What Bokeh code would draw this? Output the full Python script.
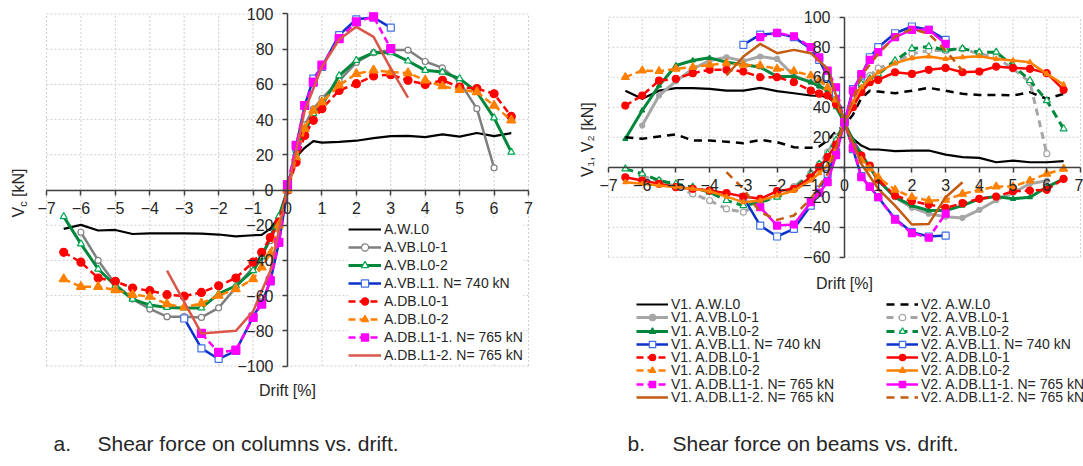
from bokeh.plotting import figure
from bokeh.models import Range1d, FixedTicker, Label, Legend, LegendItem
from bokeh.layouts import row
from bokeh.embed import file_html
from bokeh.resources import INLINE

FONT = "Liberation Sans"
TXT = "#262626"

# ---------------- data: (a) shear force on columns ----------------
drift_full = [-6.5, -6, -5.5, -5, -4.5, -4, -3.5, -3, -2.5, -2, -1.5, -1, -0.75, -0.5, -0.25,
              0, 0.25, 0.5, 0.75, 1, 1.5, 2, 2.5, 3, 3.5, 4, 4.5, 5, 5.5, 6, 6.5]
drift_6 = [-6, -5.5, -5, -4.5, -4, -3.5, -3, -2.5, -2, -1.5, -1, -0.75, -0.5, -0.25,
           0, 0.25, 0.5, 0.75, 1, 1.5, 2, 2.5, 3, 3.5, 4, 4.5, 5, 5.5, 6]
drift_3 = [-3, -2.5, -2, -1.5, -1, -0.75, -0.5, -0.25, 0, 0.25, 0.5, 0.75, 1, 1.5, 2, 2.5, 3]
drift_25 = [-2.5, -2, -1.5, -1, -0.75, -0.5, -0.25, 0, 0.25, 0.5, 0.75, 1, 1.5, 2, 2.5, 3]
drift_l12 = [-3.5, -2.5, -1.5, -1, -0.5, 0, 0.5, 1, 1.5, 2, 2.5, 3, 3.5]
drift_35 = [-3.5, -3, -2.5, -2, -1.5, -1, -0.5, 0, 0.5, 1, 1.5, 2, 2.5, 3, 3.5]

vc_AW_L0 = [-22.1, -19.8, -23, -22.7, -25, -24.6, -24.6, -24.6, -24.8, -25.3, -26.3, -25.7, -25.5, -22, -15.5,
            0, 18.7, 24, 27.8, 26.9, 27.3, 28, 29.5, 30.6, 30.7, 30, 31.6, 30.3, 32.4, 30.6, 32.3]
vc_AVB_L0_1 = [-24, -40, -53.4, -62, -67.6, -72, -72, -72.4, -67, -55.3, -44, -37, -28.7, -18,
               0, 22, 37, 46, 52, 62, 72.5, 78, 79.5, 79.5, 73, 69.4, 61.4, 46.2, 12.6]
vc_AVB_L0_2 = [-15.1, -30.6, -44.9, -54.4, -62, -65.4, -66.7, -67, -67, -59, -54.4, -45.8, -38, -26.9, -15,
               0, 20.6, 33, 43.4, 48, 65, 73.7, 78, 78, 73.3, 68, 67, 63.3, 55.7, 41, 21.5]
vc_AVB_L1 = [-73, -90, -96, -91.4, -72, -64, -52, -30, 0, 24.4, 48, 63.3, 70, 88, 97, 98, 92.3]
vc_ADB_L0_1 = [-35.4, -41, -50, -51.9, -55.7, -57.2, -59.5, -60.3, -58.2, -54.4, -50, -41, -35.4, -27, -18.3,
               0, 15.8, 31, 39.6, 46.2, 56.6, 60.4, 64.8, 65.5, 62.3, 60, 62.3, 58.5, 57.6, 54.7, 41.8]
vc_ADB_L0_2 = [-50.6, -55, -55, -56.8, -59.5, -60.6, -64.8, -66.7, -64.4, -60, -56.3, -50.6, -43.9, -36.3, -20,
               0, 18.7, 34.8, 45.2, 50, 59.5, 66, 68, 67, 66.5, 62.3, 59, 57, 55.7, 48, 39.6]
vc_ADB_L1_1 = [-81.5, -92.3, -91, -72.4, -64.8, -51.5, -29.7, 3, 25.3, 48, 61.3, 70.9, 86, 95.5, 98.4, 80.3]
vc_ADB_L1_2 = [-45.8, -81.5, -80, -69, -46, 0, 45, 70, 85.5, 92.7, 87, 69, 52.5]

# ---------------- data: (b) shear force on beams ----------------
v1_AW_L0 = [51, 45.6, 51, 52.7, 52.7, 52.2, 51, 51, 52.9, 50.7, 49.3, 47.8, 47.5, 47, 42,
            28, 19, 14.4, 11.8, 11.8, 10.7, 11.1, 11.1, 8.4, 6.7, 6.2, 3.3, 4.4, 3.3, 3.3, 4]
v2_AW_L0 = [20, 18.9, 20.5, 21.8, 17.8, 17.8, 17, 16, 18.2, 16.7, 13.3, 12.9, 13.8, 17.8, 24,
            28, 35, 46, 51, 50.4, 49.3, 51, 52.9, 51, 48.9, 48.2, 48.2, 47.8, 50, 45.6, 48.9]
v1_AVB_L0_1 = [27.8, 47.8, 57.3, 65.6, 71.1, 73.3, 70.7, 73.8, 72.2, 61, 56.7, 54, 51, 42,
               30, 15, 7, 0, -8, -20, -27, -31, -33, -33.8, -28.4, -22, -17, -11, -9]
v2_AVB_L0_1 = [-6, -9, -13, -17.8, -22.2, -27.8, -30, -24, -19, -13, -4, 2, 10, 20,
               30, 45, 55, 61, 66, 70, 75.6, 77.8, 77.8, 78.9, 75.6, 73.3, 65.6, 56.7, 9]
v1_AVB_L0_2 = [18.9, 37.8, 54.4, 67.8, 71.1, 72.9, 70, 68.4, 66.7, 60.4, 60.4, 56.7, 54, 51, 40,
               30, 17.8, 8.9, 0, -8.9, -20, -25.6, -28.9, -28.9, -25.6, -21.1, -19.6, -21.1, -20, -13.3, -7.8]
v2_AVB_L0_2 = [-1.1, -4.4, -8.9, -11.1, -13.3, -16.7, -22.2, -25.6, -23.3, -20, -14.4, -4.4, 2, 8.9, 18,
               30, 42, 55.6, 59, 62, 71, 79, 80.4, 78.2, 79, 76.7, 76.7, 67.8, 57.8, 44.4, 25.6]
v1_AVB_L1 = [81.6, 88.4, 89.3, 86.7, 78.9, 71.6, 60, 49, 30, 12, -6, -13, -20, -34.4, -43.3, -46.2, -45.6]
v2_AVB_L1 = [-20, -38.9, -46.2, -41.1, -25.6, -15, -4.4, 10, 30, 52, 61, 73.3, 80, 89.3, 93.8, 91.6, 84.9]
v1_ADB_L0_1 = [41.1, 47.8, 57.8, 58.9, 62.7, 64.9, 64.9, 63.8, 60, 60, 56.7, 51, 49, 47.8, 42,
               30, 13.3, 7.8, 1.1, -8.4, -18.9, -22.7, -24.9, -27.1, -24, -21.1, -19.6, -16, -15.6, -15.1, -7.8]
v2_ADB_L0_1 = [-6.7, -8.9, -11.1, -13.3, -14.4, -15.6, -17.3, -19.6, -21.1, -16, -14.4, -6.7, 0, 6.7, 15,
               30, 40, 50, 56.7, 58.2, 63.3, 62.2, 64.9, 66.2, 63.3, 63.8, 67.1, 66.2, 65.6, 62.7, 51.6]
v1_ADB_L0_2 = [60, 64.4, 64, 65.6, 66.7, 68.2, 69.3, 68.2, 67.8, 65.6, 64, 61.1, 58, 53.3, 45,
               30, 12.2, 4.4, -1, -6.7, -15.1, -20, -22.2, -21.8, -17.8, -15.1, -12.9, -12.9, -8.9, -4.4, -1.1]
v2_ADB_L0_2 = [-10, -11.1, -12.2, -13.3, -14.4, -16, -19.6, -23.3, -22.2, -18.9, -15.6, -8.9, -4, 1.1, 12,
               30, 43.3, 53.3, 58.9, 63.3, 69.3, 72.7, 73.8, 72.2, 73.3, 74, 72.2, 71.1, 70, 62.2, 55.1]
v1_ADB_L1_1 = [86.7, 89.6, 87.3, 80, 73.3, 64.4, 53.3, 30, 13, -6.7, -13, -20, -35, -44, -47, -31]
v2_ADB_L1_1 = [-26.7, -38.9, -38.2, -23.3, -17, -10, 8, 30, 51, 62, 71.6, 76.7, 86.7, 91.6, 91.6, 82.2]
v1_ADB_L1_2 = [61.1, 73.8, 82.2, 76, 78.2, 76, 65.6, 30, 2.2, -14.4, -25.6, -38.2, -37.8, -20, -10]
v2_ADB_L1_2 = [-3.3, -14.4, -30, -35.1, -32.2, -21.1, -4.4, 30, 61, 75.6, 87, 92.2, 88.9, 77.8, 64.4]

x_ticks = list(range(-7, 8))
y_ticks_a = list(range(-100, 101, 20))
y_ticks_b = list(range(-60, 101, 20))

names_a = ["A.W.L0", "A.VB.L0-1", "A.VB.L0-2", "A.VB.L1. N= 740 kN", "A.DB.L0-1", "A.DB.L0-2",
           "A.DB.L1-1. N= 765 kN", "A.DB.L1-2. N= 765 kN"]

BLACK = "#000000"
GRAY_A = "#7F7F7F"
GRAY_B = "#A6A6A6"
GREEN = "#00873C"
GREEN_M = "#00A651"
BLUE = "#0A32C8"
BLUE_M = "#3F6FE6"
RED = "#FF0000"
ORANGE = "#FF8000"
MAGENTA = "#FF00FF"
SALMON = "#D9574A"
BROWN = "#C55A11"


def make_fig(w, h, xr, yr, yt, x_lo, x_hi):
    # the frame fills the whole canvas; the plotting box is bounded by axis/grid bounds
    p = figure(output_backend="svg", toolbar_location=None, frame_width=w, frame_height=h,
               min_border=0, x_range=Range1d(*xr), y_range=Range1d(*yr))
    p.outline_line_color = None
    p.background_fill_color = "white"
    p.grid.visible = False
    gx = dict(line_color="#CFCFCF", line_dash="2 2", line_width=1, level="underlay")
    p.segment(x0=x_ticks, y0=[yt[0]] * len(x_ticks), x1=x_ticks, y1=[yt[-1]] * len(x_ticks), **gx)
    p.segment(x0=[x_lo] * len(yt), y0=yt, x1=[x_hi] * len(yt), y1=yt, **gx)
    p.xaxis.ticker = FixedTicker(ticks=x_ticks)
    p.yaxis.ticker = FixedTicker(ticks=yt)
    p.xaxis.fixed_location = 0
    p.yaxis.fixed_location = 0
    p.xaxis.bounds = (x_lo, x_hi)
    p.yaxis.bounds = (yt[0], yt[-1])
    for ax in (p.xaxis, p.yaxis):
        ax.axis_line_color = "#404040"
        ax.axis_line_width = 1.5
        ax.major_tick_line_color = "#404040"
        ax.major_tick_line_width = 1.5
        ax.major_tick_out = 5
        ax.major_tick_in = 0
        ax.minor_tick_out = 0
        ax.minor_tick_in = 0
        ax.major_label_text_font = FONT
        ax.major_label_text_font_size = "16px"
        ax.major_label_text_color = TXT
    p.xaxis.major_label_standoff = 7
    p.yaxis.major_label_standoff = 9
    return p


def series(p, xs, ys, color, width=2.5, dash="solid", marker=None, size=7, fill=None, mline=None):
    rs = [p.line(xs, ys, line_color=color, line_width=width, line_dash=dash, line_join="round")]
    if marker:
        rs.append(p.scatter(xs, ys, marker=marker, size=size, fill_color=fill or color,
                            line_color=mline or color, line_width=1.2))
    return rs


def txt(p, x, y, text, size="16px", angle=0, align="center"):
    p.add_layout(Label(x=x, y=y, x_units="screen", y_units="screen", text=text, angle=angle,
                       text_font=FONT, text_font_size=size, text_color=TXT,
                       text_align=align, text_baseline="middle"))


# ---------------- figure (a) ----------------
pa = make_fig(540, 466, (-8.3361, 7.3485), (-157.10, 107.67), y_ticks_a, -7, 7)
ra = [
    series(pa, drift_full, vc_AW_L0, BLACK, width=2.2),
    series(pa, drift_6, vc_AVB_L0_1, GRAY_A, marker="circle", size=6, fill="white"),
    series(pa, drift_full, vc_AVB_L0_2, GREEN, width=3, marker="triangle", size=7, fill="white", mline=GREEN_M),
    series(pa, drift_3, vc_AVB_L1, BLUE, marker="square", size=7, fill="white", mline=BLUE_M),
    series(pa, drift_full, vc_ADB_L0_1, RED, dash="7 4", marker="circle", size=8),
    series(pa, drift_full, vc_ADB_L0_2, ORANGE, dash="7 4", marker="triangle", size=9),
    series(pa, drift_25, vc_ADB_L1_1, MAGENTA, dash="7 4", marker="square", size=8),
    series(pa, drift_l12, vc_ADB_L1_2, SALMON),
]
leg_a = Legend(items=[LegendItem(label=n, renderers=r) for n, r in zip(names_a, ra)],
               location=(348, 102), padding=0, margin=0, spacing=0, label_standoff=3,
               glyph_width=33, glyph_height=18, label_height=18,
               label_text_font=FONT, label_text_font_size="14px", label_text_color=TXT,
               background_fill_color="white", background_fill_alpha=1, border_line_color=None)
pa.add_layout(leg_a)

# axis titles and caption (a)
txt(pa, 18, 249, "V", angle=1.5708, align="left")
txt(pa, 22.5, 259.7, "c", size="11px", angle=1.5708, align="left")
txt(pa, 18, 269.5, "[kN]", angle=1.5708, align="left")
txt(pa, 287, 76, "Drift [%]")
txt(pa, 53, 23, "a.", size="21px", align="left")
txt(pa, 97, 23, "Shear force on columns vs. drift.", size="21px", align="left")

# ---------------- figure (b) ----------------
pb = make_fig(543, 466, (-9.0169, 7.0891), (-199.53, 111.13), y_ticks_b, -7, 7)
v1 = [
    ("V1. A.W.L0", series(pb, drift_full, v1_AW_L0, BLACK, width=2.2)),
    ("V1. A.VB.L0-1", series(pb, drift_6, v1_AVB_L0_1, GRAY_B, width=3, marker="circle", size=5)),
    ("V1. A.VB.L0-2", series(pb, drift_full, v1_AVB_L0_2, GREEN, width=3, marker="triangle", size=5)),
    ("V1. A.VB.L1. N= 740 kN", series(pb, drift_3, v1_AVB_L1, BLUE, marker="square", size=7, fill="white", mline=BLUE_M)),
    ("V1. A.DB.L0-1", series(pb, drift_full, v1_ADB_L0_1, RED, dash="7 4", marker="circle", size=7)),
    ("V1. A.DB.L0-2", series(pb, drift_full, v1_ADB_L0_2, ORANGE, dash="7 4", marker="triangle", size=8)),
    ("V1. A.DB.L1-1. N= 765 kN", series(pb, drift_25, v1_ADB_L1_1, MAGENTA, dash="7 4", marker="square", size=7)),
    ("V1. A.DB.L1-2. N= 765 kN", series(pb, drift_35, v1_ADB_L1_2, BROWN)),
]
v2 = [
    ("V2. A.W.L0", series(pb, drift_full, v2_AW_L0, BLACK, width=2.5, dash="8 6")),
    ("V2. A.VB.L0-1", series(pb, drift_6, v2_AVB_L0_1, GRAY_B, width=3, dash="7 5", marker="circle", size=6, fill="white")),
    ("V2. A.VB.L0-2", series(pb, drift_full, v2_AVB_L0_2, GREEN, width=3, dash="8 5", marker="triangle", size=7, fill="white", mline=GREEN_M)),
    ("V2. A.VB.L1. N= 740 kN", series(pb, drift_3, v2_AVB_L1, BLUE, marker="square", size=7, fill="white", mline=BLUE_M)),
    ("V2. A.DB.L0-1", series(pb, drift_full, v2_ADB_L0_1, RED, marker="circle", size=7)),
    ("V2. A.DB.L0-2", series(pb, drift_full, v2_ADB_L0_2, ORANGE, marker="triangle", size=5)),
    ("V2. A.DB.L1-1. N= 765 kN", series(pb, drift_25, v2_ADB_L1_1, MAGENTA, marker="square", size=7)),
    ("V2. A.DB.L1-2. N= 765 kN", series(pb, drift_35, v2_ADB_L1_2, BROWN, dash="8 6")),
]

# two-column legend below plot (b): one entry per row, rows 13.3 px apart
ROW_H = 16
for col_x, items in ((96, v1), (346, v2)):
    for i, (name, rends) in enumerate(items):
        centre = 304 + 13.3 * i           # canvas y of the row centre
        bottom = 466 - (centre + ROW_H / 2)
        pb.add_layout(Legend(items=[LegendItem(label=name, renderers=rends)],
                             location=(col_x, round(bottom)), padding=0, margin=0, spacing=0,
                             label_standoff=3, glyph_width=32, glyph_height=ROW_H, label_height=ROW_H,
                             label_text_font=FONT, label_text_font_size="14px", label_text_color=TXT,
                             background_fill_alpha=0, border_line_color=None))

txt(pb, 47, 329, "V\u2081, V\u2082  [kN]", angle=1.5708)
txt(pb, 304, 183, "Drift [%]")
txt(pb, 87, 23, "b.", size="21px", align="left")
txt(pb, 132, 23, "Shear force on beams vs. drift.", size="21px", align="left")

layout = row(pa, pb)
open("out.html", "w").write(file_html(layout, INLINE))
